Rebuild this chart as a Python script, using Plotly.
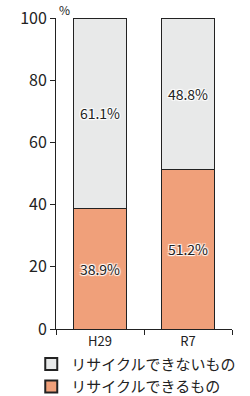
import plotly.graph_objects as go

categories = ["H29", "R7"]
recyclable = [38.9, 51.2]
non_recyclable = [61.1, 48.8]
series_names = ["リサイクルできるもの", "リサイクルできないもの"]
y_ticks = [0, 20, 40, 60, 80, 100]

shadow = "1px 1px 1px white, -1px -1px 1px white, 1px -1px 1px white, -1px 1px 1px white"
font_family = "Noto Sans CJK JP, Noto Sans, sans-serif"

fig = go.Figure()
fig.add_trace(go.Bar(
    x=categories, y=recyclable, name=series_names[0],
    marker=dict(color="#f0a07a", line=dict(color="#222", width=1)),
    text=[f"{v}%" for v in recyclable], textposition="inside",
    insidetextanchor="middle",
    textfont=dict(size=14, color="#222", family=font_family, shadow=shadow),
    width=0.6,
))
fig.add_trace(go.Bar(
    x=categories, y=non_recyclable, name=series_names[1],
    marker=dict(color="#e8e9e9", line=dict(color="#222", width=1)),
    text=[f"{v}%" for v in non_recyclable], textposition="inside",
    insidetextanchor="middle",
    textfont=dict(size=14, color="#222", family=font_family, shadow=shadow),
    width=0.6,
))

fig.update_layout(
    barmode="stack",
    width=250, height=396,
    margin=dict(l=56, r=18, t=18, b=67, autoexpand=False),
    plot_bgcolor="white", paper_bgcolor="white",
    font=dict(family=font_family, size=14, color="#222"),
    showlegend=True,
    legend=dict(
        traceorder="reversed", orientation="v",
        xref="container", yref="container",
        x=0.125, y=0.122, xanchor="left", yanchor="top",
        font=dict(size=15, family=font_family, color="#222"),
        itemsizing="constant", tracegroupgap=0,
        bgcolor="rgba(0,0,0,0)",
    ),
    uniformtext=dict(mode="show", minsize=10),
)
fig.update_yaxes(
    range=[0, 100], tickvals=y_ticks, ticks="outside", ticklen=5,
    tickcolor="#222", showline=True, linecolor="#222", linewidth=1,
    showgrid=False, zeroline=False, tickfont=dict(size=16),
)
fig.update_xaxes(
    showline=True, linecolor="#222", linewidth=1, ticks="outside",
    tickson="boundaries", ticklen=5, tickcolor="#222",
    tickfont=dict(size=13), showgrid=False,
)
fig.add_annotation(text="%", x=0, y=1, xref="paper", yref="paper",
                   xanchor="left", yanchor="bottom", showarrow=False,
                   xshift=1, yshift=-2, font=dict(size=12))

fig.write_html("out.html")
